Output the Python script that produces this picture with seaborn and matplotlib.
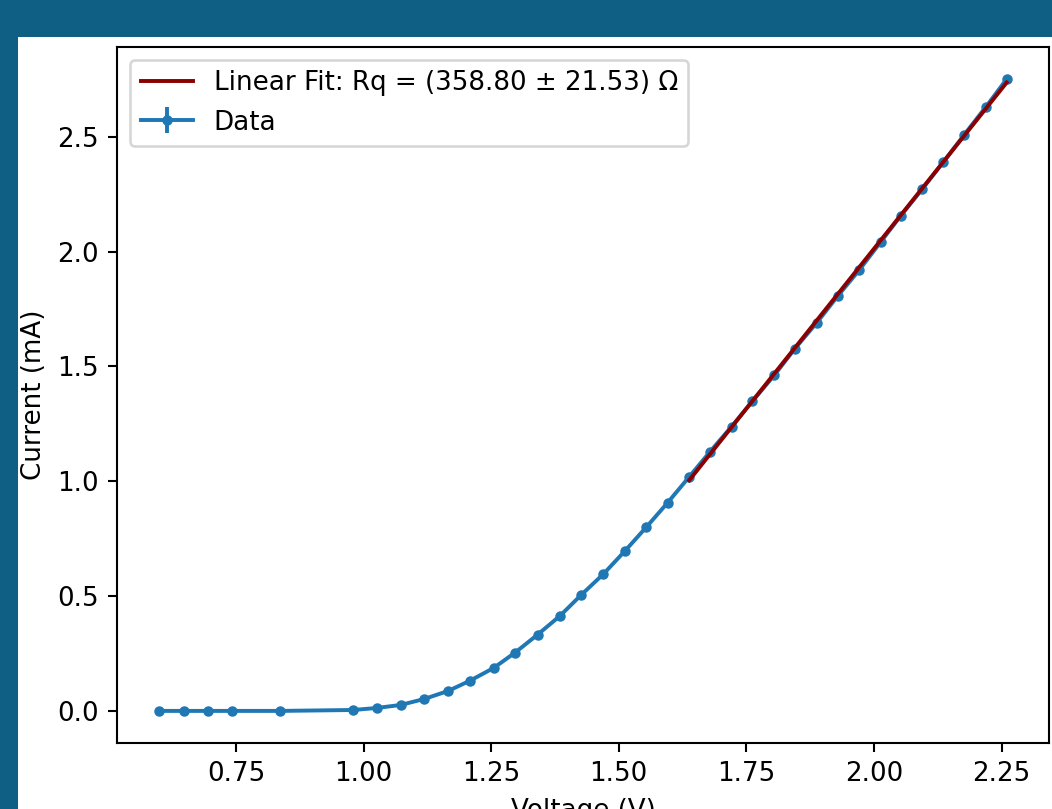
import numpy as np
import matplotlib
matplotlib.use("Agg")
import matplotlib.pyplot as plt
from matplotlib.patches import Rectangle
import seaborn as sns

# measured I-V data (voltage in V, current in mA)
voltage = [0.600, 0.648, 0.695, 0.742, 0.837, 0.980, 1.027, 1.073, 1.119, 1.166,
           1.209, 1.255, 1.297, 1.341, 1.385, 1.426, 1.470, 1.512, 1.554, 1.596,
           1.638, 1.679, 1.721, 1.762, 1.805, 1.845, 1.888, 1.929, 1.971, 2.013,
           2.053, 2.095, 2.136, 2.177, 2.219, 2.260]
current = [0.000, 0.000, 0.000, 0.000, 0.000, 0.004, 0.013, 0.026, 0.052, 0.087,
           0.132, 0.187, 0.254, 0.332, 0.414, 0.504, 0.596, 0.696, 0.800, 0.907,
           1.019, 1.129, 1.238, 1.349, 1.462, 1.577, 1.690, 1.806, 1.919, 2.041,
           2.157, 2.273, 2.390, 2.509, 2.629, 2.751]
current_err = [0.002] * len(current)

fit_start = 20  # first point used for the linear fit
fit_label = "Linear Fit: Rq = (358.80 ± 21.53) Ω"

fig = plt.figure(figsize=(1052 / 188, 809 / 188), dpi=188, facecolor="#0f5e83")
# white page area behind the plot
fig.patches.append(Rectangle((18 / 1052, 0), 1, 1 - 37 / 809, transform=fig.transFigure,
                             facecolor="white", edgecolor="none", zorder=-10))
ax = fig.add_axes([117 / 1052, 66 / 809, 932 / 1052, 696 / 809])
ax.set_zorder(1)

ax.errorbar(voltage, current, yerr=current_err, fmt=".-", color="#1f77b4", label="Data")

vf = np.array(voltage[fit_start:])
cf = np.array(current[fit_start:])
slope, intercept = np.polyfit(vf, cf, 1)
fit_x = [vf[0], vf[-1]]
fit_y = [slope * vf[0] + intercept, slope * vf[-1] + intercept]
sns.lineplot(x=fit_x, y=fit_y, color="darkred", label=fit_label, ax=ax, zorder=3)

ax.set_xlabel("Voltage (V)")
ax.set_ylabel("Current (mA)")
ax.legend(loc="upper left")

fig.savefig("out.png", dpi=188, facecolor=fig.get_facecolor())
